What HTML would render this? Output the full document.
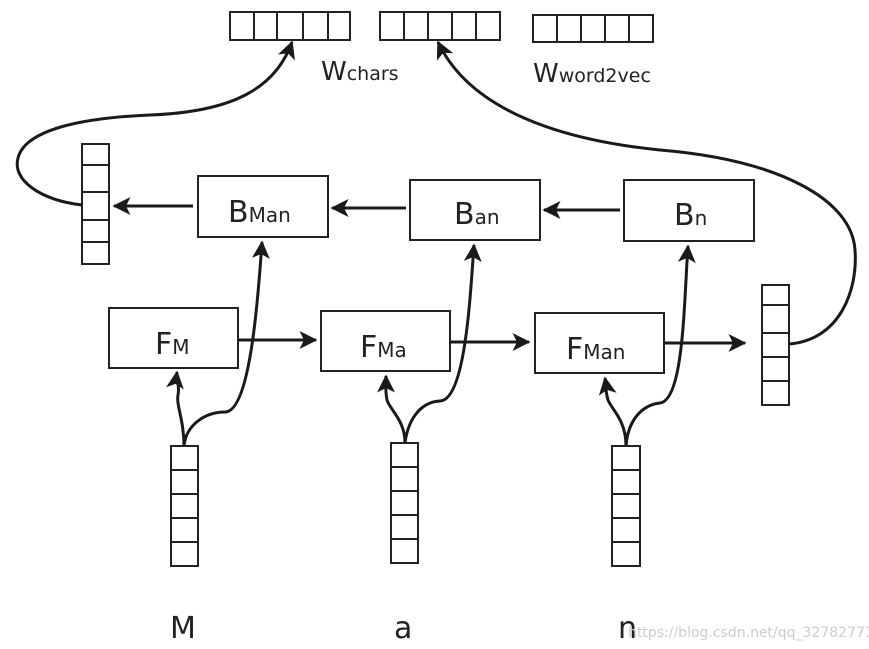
<!DOCTYPE html>
<html><head><meta charset="utf-8"><style>
body{margin:0;background:#fff;width:869px;height:649px;overflow:hidden}
svg{display:block}
text{font-family:"DejaVu Sans","Liberation Sans",sans-serif;fill:#222}
</style></head><body>
<svg width="869" height="649" viewBox="0 0 869 649">
<defs>
<marker id="ah" viewBox="0 0 12 12" refX="11" refY="6" markerWidth="18" markerHeight="18" orient="auto" markerUnits="userSpaceOnUse">
<path d="M0,0 L12,6 L0,12 L3,6 Z" fill="#1a1a1a"/></marker>
</defs>
<g fill="none" stroke="#222" stroke-width="2">
<rect x="230" y="12" width="120" height="28"/>
<path d="M254,12V40M277,12V40M303,12V40M328,12V40"/>
<rect x="380" y="12" width="120" height="28"/>
<path d="M404,12V40M428,12V40M452,12V40M476,12V40"/>
<rect x="533" y="15" width="120" height="27"/>
<path d="M557,15V42M581,15V42M605,15V42M629,15V42"/>
<rect x="82" y="144" width="27" height="120"/>
<path d="M82,165H109M82,192H109M82,220H109M82,242H109"/>
<rect x="762" y="285" width="27" height="120"/>
<path d="M762,305H789M762,333H789M762,357H789M762,381H789"/>
<rect x="171" y="446" width="27" height="120"/>
<path d="M171,470H198M171,494H198M171,518H198M171,542H198"/>
<rect x="391" y="443" width="27" height="120"/>
<path d="M391,467H418M391,491H418M391,515H418M391,539H418"/>
<rect x="612" y="446" width="28" height="120"/>
<path d="M612,470H640M612,494H640M612,518H640M612,542H640"/>
<rect x="198" y="176" width="130" height="61"/>
<rect x="410" y="180" width="130" height="60"/>
<rect x="624" y="180" width="130" height="61"/>
<rect x="109" y="308" width="129" height="60"/>
<rect x="321" y="311" width="129" height="60"/>
<rect x="535" y="313" width="129" height="60"/>
</g>
<g fill="none" stroke="#1a1a1a" stroke-width="3">
<path d="M193,206H114" marker-end="url(#ah)"/>
<path d="M406,208H332" marker-end="url(#ah)"/>
<path d="M620,210H544" marker-end="url(#ah)"/>
<path d="M238,340H316" marker-end="url(#ah)"/>
<path d="M450,342H529" marker-end="url(#ah)"/>
<path d="M664,343H745" marker-end="url(#ah)"/>
<path d="M82,205C40,200 12,180 18,158C25,130 80,118 150,115C230,112 275,90 292,42" marker-end="url(#ah)"/>
<path d="M789,344C840,340 858,290 855,250C852,200 780,160 660,150C560,140 470,110 438,42" marker-end="url(#ah)"/>
<path d="M184,446C184,420 176,405 178,395C180,385 176,380 177,372" marker-end="url(#ah)"/>
<path d="M184,446C186,425 205,412 225,412C250,412 258,300 262,242" marker-end="url(#ah)"/>
<path d="M405,443C405,420 390,410 387,400C385,390 386,382 386,376" marker-end="url(#ah)"/>
<path d="M405,443C408,420 420,402 440,401C465,400 470,300 474,245" marker-end="url(#ah)"/>
<path d="M626,446C626,420 612,410 608,400C605,390 606,384 605,378" marker-end="url(#ah)"/>
<path d="M626,446C628,420 642,405 660,403C684,400 684,300 688,246" marker-end="url(#ah)"/>
</g>
<text x="321" y="80" font-size="26">W<tspan font-size="19">chars</tspan></text>
<text x="533" y="82" font-size="26">W<tspan font-size="19">word2vec</tspan></text>
<text x="228" y="222" font-size="30">B<tspan font-size="20">Man</tspan></text>
<text x="454" y="224" font-size="30">B<tspan font-size="20">an</tspan></text>
<text x="674" y="225" font-size="30">B<tspan font-size="20">n</tspan></text>
<text x="155" y="354" font-size="30">F<tspan font-size="20">M</tspan></text>
<text x="360" y="357" font-size="30">F<tspan font-size="20">Ma</tspan></text>
<text x="566" y="359" font-size="30">F<tspan font-size="20">Man</tspan></text>
<text x="170" y="638" font-size="30">M</text>
<text x="394" y="638" font-size="30">a</text>
<text x="618" y="638" font-size="30">n</text>
<text x="628" y="637" font-size="14" style="fill:#ccc">https://blog.csdn.net/qq_32782771</text>
</svg>
</body></html>
